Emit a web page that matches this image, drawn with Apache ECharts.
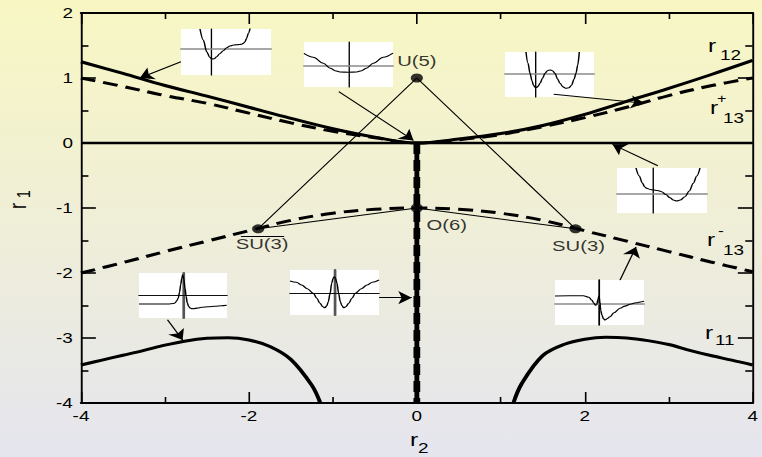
<!DOCTYPE html>
<html>
<head>
<meta charset="utf-8">
<script src="https://cdn.jsdelivr.net/npm/echarts@6/dist/echarts.min.js"></script>
<style>
  html, body { margin: 0; padding: 0; }
  body {
    width: 762px; height: 457px; overflow: hidden;
    background: linear-gradient(#f8f7c3, #efeed8 50%, #e5e5ef);
  }
  #chart { width: 564px; height: 457px; transform-origin: 0 0; }
</style>
</head>
<body>
<div id="chart"></div>
<script>
// ---- phase boundaries in the (r2, r1) plane ----
const r2 = [-4, -3.5, -3, -2.5, -2, -1.5, -1, -0.5, 0, 0.5, 1, 1.5, 2, 2.5, 3, 3.5, 4];
const r12 = [1.25, 1.07, 0.885, 0.72, 0.55, 0.38, 0.22, 0.09, 0, 0.06, 0.145, 0.27, 0.44, 0.64, 0.84, 1.05, 1.27];
const r13Plus = [1.0, 0.87, 0.73, 0.61, 0.46, 0.31, 0.18, 0.08, 0, 0.05, 0.13, 0.25, 0.39, 0.55, 0.73, 0.88, 1.0];
const r13Minus = [-2.0, -1.84, -1.67, -1.51, -1.35, -1.19, -1.08, -1.02, -1.0, -1.02, -1.08, -1.19, -1.35, -1.51, -1.67, -1.83, -1.98];

const r11LeftR2 = [-4, -3.75, -3.5, -3.25, -3, -2.75, -2.5, -2.25, -2, -1.75, -1.5, -1.25, -1.15];
const r11LeftR1 = [-3.415, -3.34, -3.265, -3.19, -3.11, -3.045, -3.005, -2.995, -3.03, -3.13, -3.33, -3.73, -4.0];
const r11RightR2 = [1.15, 1.25, 1.5, 1.75, 2, 2.25, 2.5, 2.75, 3, 3.25, 3.5, 3.75, 4];
const r11RightR1 = [-4.0, -3.70, -3.27, -3.10, -3.02, -2.99, -3.0, -3.04, -3.10, -3.19, -3.27, -3.34, -3.415];

const zeroLineR2 = [-4, 4];
const zeroLineR1 = [0, 0];
const axisBranchR2 = [0, 0];
const axisBranchR1 = [0, -4];

// dynamical-symmetry points
const pointNames = ['U(5)', 'O(6)', 'SU(3)', 'SU(3)'];
const pointR2 = [0, 0, -1.89, 1.89];
const pointR1 = [1.0, -1.0, -1.32, -1.32];

// overline of the left SU(3) label
const barR2 = [-2.095, -1.58];
const barR1 = [-1.43, -1.43];

// annotation arrows: tail and head in (r2, r1)
const arrowTail = [[-2.81, 1.25], [-0.93, 0.79], [1.63, 0.75], [2.87, -0.35], [2.42, -2.11], [-0.45, -2.38], [-2.97, -2.72]];
const arrowHead = [[-3.30, 1.0], [-0.04, 0.04], [2.71, 0.61], [2.33, -0.02], [2.61, -1.60], [-0.06, -2.38], [-2.79, -3.03]];

// ---- potential sketches V(x) (x, V measured from the small axes' crossing) ----
const potAX = [-11.7, -8.4, -5, -2, 0, 2.5, 5, 8, 11.6, 15, 18.3, 22, 25, 28, 30, 32, 33.3, 35, 36.6, 38.5];
const potAV = [19.7, 8.7, -3, -8.5, -10.3, -10, -8, -5, -2, 1, 2.7, 3.7, 4, 4.2, 4.4, 5.6, 7, 10.5, 15.4, 21];
const potBX = [-44.3, -35, -25, -18, -13.3, -8.3, 0, 8.4, 13.4, 18, 25, 35, 44.7];
const potBV = [12.4, 8.5, 2.4, -2.5, -5, -6.3, -6.6, -6.3, -5, -2.5, 2.4, 8.5, 12.6];
const potCX = [-9, -7, -5, -3, -1.5, 0, 1.5, 3, 5, 7.5, 10, 12.5, 15, 17.5, 20, 22.5, 25, 28, 31, 34, 36.5, 39, 41, 42.7, 44.3];
const potCV = [21.3, 10, 0, -7.5, -12, -13.8, -14.2, -13, -10, -5, 0, 2.6, 3.3, 2.6, 0, -5.5, -10, -13.6, -15, -14.5, -12, -6, 0, 8, 21.3];
const potDX = [-17.3, -14, -11, -8.5, -6.6, -3, 0, 4, 8.4, 12.5, 16.7, 20, 23.4, 27, 31.7, 36, 40, 43.5, 46.7];
const potDV = [26, 18, 11, 7, 5.7, 4.5, 4, 3.5, 2.3, -0.5, -3.7, -6, -7, -6, -2.7, 3, 10.7, 18, 26];
const potEX = [-44, -30, -15.7, -10, -7.3, -5, -3.5, -2.3, -1, 0, 0.8, 1.7, 3, 4.5, 6, 8, 11, 15, 21, 26, 31, 37, 42.7, 45];
const potEV = [7.3, 7.5, 7.6, 6, 3.3, 0, -1.8, -1.5, 4, 7.6, 2, -7, -12, -15.5, -16.7, -15.5, -13.4, -9.5, -5, -2.8, -1, 0.5, 1.6, 2];
const potFX = [-44.3, -38, -32.6, -27, -21, -17.5, -14.3, -11.5, -9.3, -7.5, -6, -4.2, -2.6, -1.2, 0, 1.2, 2.7, 4.3, 6, 7.7, 9.4, 11.6, 14.4, 17.6, 21, 27, 32.7, 38, 44.7];
const potFV = [12.3, 11, 8.3, 4.5, 0, -5, -10, -13.5, -14.4, -12.5, -8.4, 0, 10, 15, 16.6, 15, 10, 0, -8.4, -12.5, -14.4, -13.5, -10, -5, 0, 4.5, 8.3, 11, 13.3];
const potGX = [-44.3, -30, -15, -10, -8.3, -6.5, -5, -3.8, -2.6, -1.5, -0.6, 0.5, 1.7, 2.8, 4, 5.3, 6.7, 8.3, 10, 14, 18.4, 25, 31.7, 38, 43.4];
const potGV = [-8.7, -8.7, -8.7, -8.2, -7.7, -5.5, -2.7, 3, 10.6, 17, 20.6, 16, 7.3, -1, -7.7, -11, -12.7, -13.3, -13.4, -12.8, -12, -11.5, -11, -10.5, -10];

// ---- layout ----
// The drawing is laid out on a narrower canvas and widened horizontally.
const S = 762 / 564;
const hx = v => v / S;
document.getElementById('chart').style.transform = 'scaleX(' + S + ')';

const FONT = '"Liberation Sans", Arial, Helvetica, sans-serif';
const zip = (xs, ys) => xs.map((x, i) => [x, ys[i]]);

// sketch panels: box [left, top, right, bottom] on the page, axis ranges, axis line styles
const panels = [
  { box: [181, 29, 271, 75],  xr: [-30.7, 59.3], yr: [-26.3, 19.7], x: potAX, v: potAV, h: ['#8a8a8a', 1.5], vl: ['#000', 1] },
  { box: [304, 42, 393, 87],  xr: [-44.3, 44.7], yr: [-21.3, 23.7], x: potBX, v: potBV, h: ['#8a8a8a', 1.5], vl: ['#000', 1] },
  { box: [505, 52, 594, 97],  xr: [-30, 59],     yr: [-23.7, 21.3], x: potCX, v: potCV, h: ['#8a8a8a', 1.5], vl: ['#000', 1] },
  { box: [617, 168, 707, 213], xr: [-36.3, 53.7], yr: [-19, 26],    x: potDX, v: potDV, h: ['#8a8a8a', 1.5], vl: ['#000', 1] },
  { box: [555, 280, 644, 325], xr: [-44, 45],     yr: [-21.7, 23.3], x: potEX, v: potEV, h: ['#8a8a8a', 1.5], vl: ['#000', 1.3] },
  { box: [290, 270, 379, 315], xr: [-44.3, 44.7], yr: [-21.7, 23.3], x: potFX, v: potFV, h: ['#111', 1.2], vl: ['#555', 2] },
  { box: [139, 273, 227, 318], xr: [-44.3, 43.7], yr: [-22.7, 22.3], x: potGX, v: potGV, h: ['#111', 1.2], vl: ['#555', 2] }
];

const grids = [{ left: hx(81), right: 564 - hx(755.5), top: 13, bottom: 54 }];
const xAxes = [
  {
    gridIndex: 0, type: 'value', min: -4, max: 4, interval: 2, position: 'bottom',
    axisLine: { onZero: false, lineStyle: { color: '#000', width: 1.8 } },
    axisTick: { inside: true, length: 11, lineStyle: { color: '#000', width: 1.2 } },
    minorTick: { show: true, splitNumber: 2, length: 6, lineStyle: { color: '#000', width: 1.2 } },
    axisLabel: { color: '#000', fontSize: 14, fontFamily: FONT, margin: 6 },
    splitLine: { show: false }
  },
  {
    gridIndex: 0, type: 'value', min: -4, max: 4, interval: 2, position: 'top',
    axisLine: { onZero: false, lineStyle: { color: '#000', width: 1.8 } },
    axisTick: { inside: true, length: 11, lineStyle: { color: '#000', width: 1.2 } },
    minorTick: { show: true, splitNumber: 2, length: 6, lineStyle: { color: '#000', width: 1.2 } },
    axisLabel: { show: false },
    splitLine: { show: false }
  }
];
const yAxes = [
  {
    gridIndex: 0, type: 'value', min: -4, max: 2, interval: 1, position: 'left',
    axisLine: { onZero: false, lineStyle: { color: '#000', width: 1.4 } },
    axisTick: { inside: true, length: 11, lineStyle: { color: '#000', width: 1.6 } },
    minorTick: { show: true, splitNumber: 2, length: 5.5, lineStyle: { color: '#000', width: 1.6 } },
    axisLabel: { color: '#000', fontSize: 14, fontFamily: FONT, margin: 6 },
    splitLine: { show: false }
  },
  {
    gridIndex: 0, type: 'value', min: -4, max: 2, interval: 1, position: 'right',
    axisLine: { onZero: false, lineStyle: { color: '#000', width: 1.4 } },
    axisTick: { inside: true, length: 11, lineStyle: { color: '#000', width: 1.6 } },
    minorTick: { show: true, splitNumber: 2, length: 5.5, lineStyle: { color: '#000', width: 1.6 } },
    axisLabel: { show: false },
    splitLine: { show: false }
  }
];

const solid = (w) => ({ color: '#000', width: w, type: 'solid' });
const dashed = (w) => ({ color: '#000', width: w, type: [11, 6] });
const curve = { smooth: 0.35, symbol: 'none', z: 4 };

const series = [
  Object.assign({ type: 'line', name: 'r12', data: zip(r2, r12), lineStyle: solid(3) }, curve),
  Object.assign({ type: 'line', name: 'r13+', data: zip(r2, r13Plus), lineStyle: dashed(3) }, curve),
  Object.assign({ type: 'line', name: 'r13-', data: zip(r2, r13Minus), lineStyle: dashed(3) }, curve),
  { type: 'line', name: 'r1=0', data: zip(zeroLineR2, zeroLineR1), symbol: 'none', lineStyle: solid(2.6), z: 4 },
  { type: 'line', name: 'r2=0 dashed', data: zip(axisBranchR2, axisBranchR1), symbol: 'none', lineStyle: dashed(5), z: 4 },
  { type: 'line', name: 'r2=0', data: zip(axisBranchR2, axisBranchR1), symbol: 'none', lineStyle: solid(3.6), z: 4 },
  Object.assign({ type: 'line', name: 'r11 left', data: zip(r11LeftR2, r11LeftR1), lineStyle: solid(3) }, curve),
  Object.assign({ type: 'line', name: 'r11 right', data: zip(r11RightR2, r11RightR1), lineStyle: solid(3) }, curve),
  // symmetry triangle: SU(3) - U(5) - SU(3) and SU(3) - O(6) - SU(3)
  {
    type: 'line', name: 'triangle upper', symbol: 'none', z: 3, lineStyle: solid(1),
    data: [[pointR2[2], pointR1[2]], [pointR2[0], pointR1[0]], [pointR2[3], pointR1[3]]]
  },
  {
    type: 'line', name: 'triangle lower', symbol: 'none', z: 3, lineStyle: solid(1),
    data: [[pointR2[2], pointR1[2]], [pointR2[1], pointR1[1]], [pointR2[3], pointR1[3]]]
  },
  {
    type: 'scatter', name: 'limits', symbolSize: 9, z: 6,
    itemStyle: { color: '#000' },
    label: { show: true, color: '#000', fontSize: 15, fontFamily: FONT, formatter: p => pointNames[p.dataIndex] },
    data: [
      { value: [pointR2[0], pointR1[0]], label: { position: 'top', distance: 5 } },
      { value: [pointR2[1], pointR1[1]], label: { position: 'bottom', distance: 5, offset: [hx(30), 0] } },
      { value: [pointR2[2], pointR1[2]], label: { position: 'bottom', distance: 3, offset: [hx(4), 0] } },
      { value: [pointR2[3], pointR1[3]], label: { position: 'bottom', distance: 5, offset: [hx(3), 0] } }
    ]
  },
  {
    type: 'lines', name: 'bar', coordinateSystem: 'cartesian2d', z: 6,
    symbol: 'none', lineStyle: { color: '#000', width: 1, opacity: 1 },
    data: [{ coords: zip(barR2, barR1) }]
  },
  {
    type: 'lines', name: 'arrows', coordinateSystem: 'cartesian2d', z: 6,
    symbol: ['none', 'arrow'], symbolSize: 10,
    lineStyle: { color: '#000', width: 1, opacity: 1 },
    itemStyle: { color: '#000' },
    data: arrowTail.map((t, i) => ({ coords: [t, arrowHead[i]] }))
  }
];

panels.forEach((p, k) => {
  const gi = k + 1;
  grids.push({
    left: hx(p.box[0]), top: p.box[1],
    width: hx(p.box[2] - p.box[0]), height: p.box[3] - p.box[1],
    show: true, backgroundColor: '#ffffff', borderWidth: 0
  });
  xAxes.push({
    gridIndex: gi, type: 'value', min: p.xr[0], max: p.xr[1],
    axisLine: { onZero: true, lineStyle: { color: p.h[0], width: p.h[1] } },
    axisTick: { show: false }, axisLabel: { show: false }, splitLine: { show: false }
  });
  yAxes.push({
    gridIndex: gi, type: 'value', min: p.yr[0], max: p.yr[1],
    axisLine: { onZero: true, lineStyle: { color: p.vl[0], width: p.vl[1] } },
    axisTick: { show: false }, axisLabel: { show: false }, splitLine: { show: false }
  });
  series.push({
    type: 'line', xAxisIndex: gi + 1, yAxisIndex: gi + 1,
    data: zip(p.x, p.v), smooth: 0.35, smoothMonotone: 'x', symbol: 'none',
    lineStyle: { color: '#000', width: 1.1 }, clip: true, z: 5
  });
});

// curve names and axis titles with sub/superscripts
const txt = (x, y, text, size, extra) => Object.assign({
  type: 'text', x: hx(x), y: y, z: 10,
  style: { text: text, fontSize: size, fontFamily: FONT, fill: '#000', align: 'left', verticalAlign: 'middle' }
}, extra || {});

const graphic = [
  txt(708, 46.5, 'r', 18), txt(720, 55, '12', 14),
  txt(710, 108.5, 'r', 18), txt(717, 99, '+', 12), txt(723, 118, '13', 14),
  txt(707, 240, 'r', 18), txt(718, 230.5, '-', 13), txt(723, 250, '13', 14),
  txt(705, 333.5, 'r', 18), txt(715, 340, '11', 14),
  txt(410, 440.5, 'r', 18), txt(418, 448.5, '2', 14),
  txt(18, 209, 'r', 18, { rotation: Math.PI / 2 }),
  txt(24, 198, '1', 14, { rotation: Math.PI / 2 })
];

const chart = echarts.init(document.getElementById('chart'), null, { renderer: 'svg' });
chart.setOption({
  animation: false,
  backgroundColor: {
    type: 'linear', x: 0, y: 0, x2: 0, y2: 1,
    colorStops: [
      { offset: 0, color: '#f8f7c3' },
      { offset: 0.5, color: '#efeed8' },
      { offset: 1, color: '#e5e5ef' }
    ]
  },
  grid: grids,
  xAxis: xAxes,
  yAxis: yAxes,
  series: series,
  graphic: graphic
});
</script>
</body>
</html>
